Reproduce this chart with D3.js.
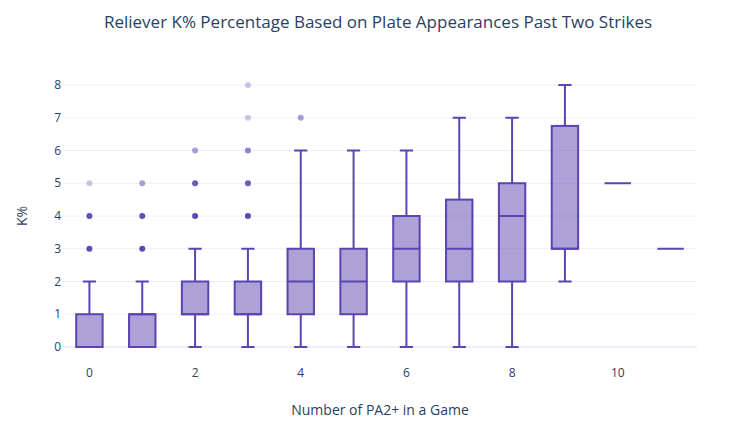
<!DOCTYPE html>
<html>
<head>
<meta charset="utf-8">
<script src="https://cdn.jsdelivr.net/npm/d3@7"></script>
<style>
  body { margin: 0; background: #fff; }
  text { font-family: "Open Sans", sans-serif; fill: #2a3f5f; }
</style>
</head>
<body>
<script>
// number of PA2+ in a game (x categories)
var games = [0, 1, 2, 3, 4, 5, 6, 7, 8, 9, 10, 11];
// box stats per category
var lowerFence = [0, 0, 0, 0, 0, 0, 0, 0, 0, 2, 5, 3];
var q1 =         [0, 0, 1, 1, 1, 1, 2, 2, 2, 3, 5, 3];
var median =     [0, 1, 1, 1, 2, 2, 3, 3, 4, 3, 5, 3];
var q3 =         [1, 1, 2, 2, 3, 3, 4, 4.5, 5, 6.75, 5, 3];
var upperFence = [2, 2, 3, 3, 6, 6, 6, 7, 7, 8, 5, 3];
// outliers: [game, K, estimated count of overlapping points]
var outliers = [
  [0, 3, 10], [0, 4, 8], [0, 5, 1],
  [1, 3, 10], [1, 4, 8], [1, 5, 2],
  [2, 4, 10], [2, 5, 6], [2, 6, 2],
  [3, 4, 10], [3, 5, 6], [3, 6, 3], [3, 7, 1], [3, 8, 1],
  [4, 7, 2]
];
var xTicks = [0, 2, 4, 6, 8, 10];
var yTicks = [0, 1, 2, 3, 4, 5, 6, 7, 8];

var width = 755, height = 429;
var color = "#5b43b0";

var svg = d3.select("body").append("svg").attr("width", width).attr("height", height);

var x = d3.scaleLinear().domain([-0.5, 11.5]).range([63, 697]);
var y = d3.scaleLinear().domain([0, 8]).range([347, 85]);
var bw = (x(1) - x(0)) * 0.5;

// gridlines
svg.append("g").selectAll("line").data(yTicks).enter().append("line")
  .attr("x1", 63).attr("x2", 697)
  .attr("y1", function(d){ return y(d); }).attr("y2", function(d){ return y(d); })
  .attr("stroke", "#ebf0f8").attr("stroke-width", function(d){ return d === 0 ? 2 : 1; });

// y tick labels
svg.append("g").selectAll("text").data(yTicks).enter().append("text")
  .attr("x", 61).attr("y", function(d){ return y(d); })
  .attr("dy", "0.35em").attr("text-anchor", "end").style("font-size", "12px")
  .text(function(d){ return d; });

// x tick labels
svg.append("g").selectAll("text").data(xTicks).enter().append("text")
  .attr("x", function(d){ return x(d); }).attr("y", 373)
  .attr("dy", "0.35em").attr("text-anchor", "middle").style("font-size", "12px")
  .text(function(d){ return d; });

// boxes
var boxes = svg.append("g").selectAll("g").data(games).enter().append("g");

boxes.append("line")
  .attr("x1", function(d){ return x(d); }).attr("x2", function(d){ return x(d); })
  .attr("y1", function(d, i){ return y(lowerFence[i]); })
  .attr("y2", function(d, i){ return y(q1[i]); })
  .attr("stroke", color).attr("stroke-width", 2);
boxes.append("line")
  .attr("x1", function(d){ return x(d); }).attr("x2", function(d){ return x(d); })
  .attr("y1", function(d, i){ return y(q3[i]); })
  .attr("y2", function(d, i){ return y(upperFence[i]); })
  .attr("stroke", color).attr("stroke-width", 2);

// whisker caps
[lowerFence, upperFence].forEach(function(arr){
  boxes.filter(function(d, i){ return q1[i] !== q3[i]; }).append("line")
    .attr("x1", function(d){ return x(d) - bw / 4; }).attr("x2", function(d){ return x(d) + bw / 4; })
    .attr("y1", function(d){ return y(arr[d]); }).attr("y2", function(d){ return y(arr[d]); })
    .attr("stroke", color).attr("stroke-width", 2);
});

boxes.append("rect")
  .attr("x", function(d){ return x(d) - bw / 2; })
  .attr("width", bw)
  .attr("y", function(d, i){ return y(q3[i]); })
  .attr("height", function(d, i){ return y(q1[i]) - y(q3[i]); })
  .attr("fill", color).attr("fill-opacity", 0.5)
  .attr("stroke", color).attr("stroke-width", 2);

boxes.append("line")
  .attr("x1", function(d){ return x(d) - bw / 2; }).attr("x2", function(d){ return x(d) + bw / 2; })
  .attr("y1", function(d, i){ return y(median[i]); })
  .attr("y2", function(d, i){ return y(median[i]); })
  .attr("stroke", color).attr("stroke-width", 2);

// outlier points
svg.append("g").selectAll("circle").data(outliers).enter().append("circle")
  .attr("cx", function(d){ return x(d[0]); })
  .attr("cy", function(d){ return y(d[1]); })
  .attr("r", 3)
  .attr("fill", color)
  .attr("fill-opacity", function(d){ return 1 - Math.pow(0.7, d[2]); });

// titles
svg.append("text").attr("x", 378).attr("y", 28).attr("text-anchor", "middle")
  .style("font-size", "17px").text("Reliever K% Percentage Based on Plate Appearances Past Two Strikes");
svg.append("text").attr("x", 380).attr("y", 415).attr("text-anchor", "middle")
  .style("font-size", "14px").text("Number of PA2+ in a Game");
svg.append("text").attr("transform", "translate(27,216) rotate(-90)").attr("text-anchor", "middle")
  .style("font-size", "14px").text("K%");
</script>
</body>
</html>
